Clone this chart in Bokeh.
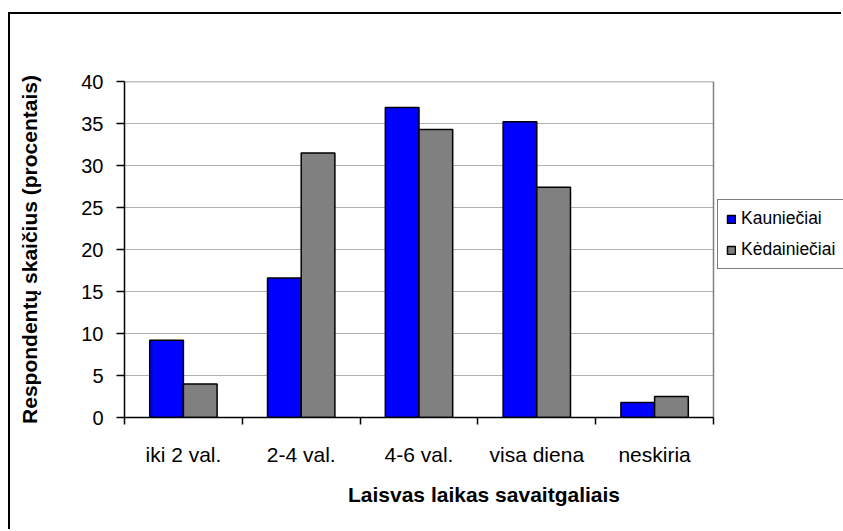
from bokeh.plotting import figure
from bokeh.models import FixedTicker, Legend, LegendItem, ColumnDataSource
from bokeh.transform import dodge
from bokeh.embed import file_html
from bokeh.resources import INLINE

categories = ["iki 2 val.", "2-4 val.", "4-6 val.", "visa diena", "neskiria"]
kaunieciai = [9.2, 16.6, 36.9, 35.2, 1.8]
kedainieciai = [4.0, 31.5, 34.3, 27.4, 2.5]
series_names = ["Kauniečiai", "Kėdainiečiai"]
y_ticks = [0, 5, 10, 15, 20, 25, 30, 35, 40]

FONT = "Liberation Sans"

n = len(categories)
pos = [i + 0.5 for i in range(n)]
src = ColumnDataSource(dict(x=pos, a=kaunieciai, b=kedainieciai))

# plot area: 589 px for the categories, extra room on the right for the legend
W, H = 833, 517
ML, MT, MB = 114, 67, 114
frame_w = W - ML
x_end = n * frame_w / 589.0

p = figure(width=W, height=H, output_backend="svg", toolbar_location=None,
           x_range=(0, x_end), y_range=(0, y_ticks[-1]),
           min_border_left=ML, min_border_right=0, min_border_top=MT,
           min_border_bottom=MB)
p.styles = {"margin-top": "14px", "margin-left": "10px",
            "box-shadow": "-2px -2px 0px 0px black"}
p.outline_line_color = None
p.xgrid.visible = False
p.ygrid.visible = False

# grid lines limited to the category area
gy = y_ticks[1:-1]
p.segment(x0=[0] * len(gy), x1=[n] * len(gy), y0=gy, y1=gy,
          line_color="#606060", line_dash="1 1", line_width=1)
# plot-area border (top and right)
p.segment(x0=[0, n], x1=[n, n], y0=[y_ticks[-1], 0], y1=[y_ticks[-1], y_ticks[-1]],
          line_color="#808080", line_width=1.5)

w = 0.286
r1 = p.vbar(x=dodge("x", -w / 2, range=p.x_range), top="a", width=w, source=src,
            fill_color="#0000FF", line_color="black", line_width=1.5)
r2 = p.vbar(x=dodge("x", w / 2, range=p.x_range), top="b", width=w, source=src,
            fill_color="#808080", line_color="black", line_width=1.5)

xa = p.xaxis[0]
xa.bounds = (0, n)
xa.ticker = FixedTicker(ticks=pos, minor_ticks=list(range(n + 1)))
xa.major_label_overrides = {pos[i]: categories[i] for i in range(n)}
xa.major_tick_out = 0
xa.major_tick_in = 0
xa.minor_tick_out = 7
xa.minor_tick_in = 0
xa.minor_tick_line_color = "black"
xa.minor_tick_line_width = 1.5
xa.axis_line_width = 1.5
xa.axis_line_color = "black"
xa.major_label_text_font = FONT
xa.major_label_text_font_size = "21px"
xa.major_label_text_color = "black"
xa.major_label_standoff = 18
xa.axis_label = "Laisvas laikas savaitgaliais"
xa.axis_label_text_font = FONT
xa.axis_label_text_font_size = "21px"
xa.axis_label_text_font_style = "bold"
xa.axis_label_text_color = "black"
xa.axis_label_standoff = 14

ya = p.yaxis[0]
ya.ticker = FixedTicker(ticks=y_ticks)
ya.major_tick_out = 8
ya.major_tick_in = 0
ya.minor_tick_out = 0
ya.minor_tick_in = 0
ya.major_tick_line_width = 1.5
ya.axis_line_width = 1.5
ya.axis_line_color = "black"
ya.major_label_text_font = FONT
ya.major_label_text_font_size = "20px"
ya.major_label_text_color = "black"
ya.major_label_standoff = 13
ya.axis_label = "Respondentų skaičius (procentais)"
ya.axis_label_text_font = FONT
ya.axis_label_text_font_size = "21px"
ya.axis_label_text_font_style = "bold"
ya.axis_label_text_color = "black"
ya.axis_label_standoff = 37

legend = Legend(items=[LegendItem(label=series_names[0], renderers=[r1]),
                       LegendItem(label=series_names[1], renderers=[r2])],
                location=(593, 148))
legend.border_line_color = "black"
legend.border_line_width = 1.5
legend.background_fill_color = "white"
legend.background_fill_alpha = 1
legend.label_text_font = FONT
legend.label_text_font_size = "17.5px"
legend.label_text_color = "black"
legend.glyph_width = 10
legend.glyph_height = 10
legend.label_height = 20
legend.spacing = 10
legend.padding = 8
legend.margin = 0
legend.label_standoff = 5
p.add_layout(legend, "center")

open("out.html", "w").write(file_html(p, INLINE))
